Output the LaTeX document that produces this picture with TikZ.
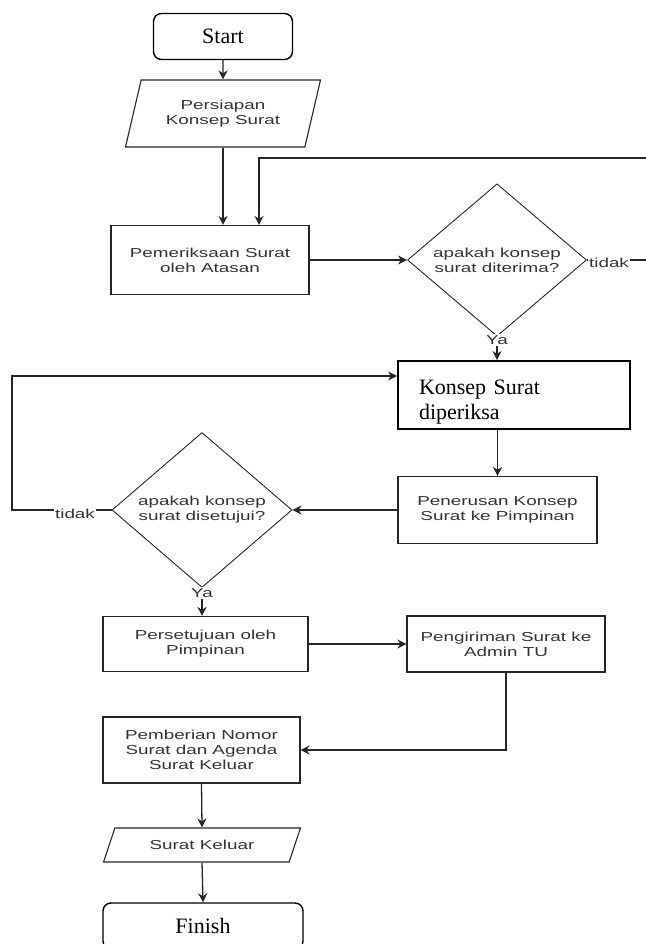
\documentclass[tikz,border=0pt]{standalone}
\usepackage{fontspec}
\setmainfont{Liberation Serif}
\newfontfamily\arialfont[FakeStretch=1.45]{Liberation Sans}
\usetikzlibrary{shapes.geometric}
\usetikzlibrary{arrows.meta}
\usetikzlibrary{calc}

\tikzset{
  panah/.style={line width=1.3pt,draw=black!85,-{Stealth[length=9pt,width=9pt]}},
  huruf/.style={text=black!80,font=\arialfont\fontsize{13}{15}\selectfont},
  terminal/.style={draw,line width=1.4pt,rounded corners=8pt,minimum width=139pt,minimum height=46pt,
    font=\fontsize{22}{25}\selectfont},
  proses/.style={huruf,draw=black!85,line width=1.1pt,align=center,inner sep=0pt},
  keputusan/.style={huruf,diamond,draw=black!85,line width=0.9pt,align=center,inner sep=0pt},
  masukan/.style={huruf,trapezium,trapezium stretches body,draw=black!85,line width=1.1pt,align=center,inner sep=0pt},
  lbl/.style={huruf,fill=white,inner sep=1pt}
}

\begin{document}
\begin{tikzpicture}[x=1pt,y=-1pt]
        \useasboundingbox (0,0) rectangle (645,944);

        \node[terminal] (start) at (223,36.5) {Start};
        \node[masukan,trapezium left angle=60,trapezium right angle=120,
              minimum width=195pt,minimum height=67pt] (persiapan) at (223,113.5) {Persiapan\\Konsep Surat};
        \node[proses,minimum width=198pt,minimum height=69pt] (periksa) at (210,260) {Pemeriksaan Surat\\oleh Atasan};
        \node[keputusan,minimum width=179pt,minimum height=122pt] (terima) at (497,260) {apakah konsep\\surat diterima?};

        % kotak konsep (huruf Times)
        \node[draw,line width=1.9pt,align=left,text width=190pt,inner xsep=21pt,inner ysep=0pt,
              text height=16pt,text depth=18pt,minimum height=68pt,
              font=\fontsize{22}{25}\selectfont] (konsep) at (514,395) {Konsep Surat\\diperiksa};
        \node[proses,minimum width=199pt,minimum height=67pt] (teruskan) at (497.5,510) {Penerusan Konsep\\Surat ke Pimpinan};
        \node[keputusan,minimum width=180pt,minimum height=121pt] (setuju) at (202,510) {apakah konsep\\surat disetujui?};

        \node[proses,minimum width=205pt,minimum height=55pt] (setujuan) at (205.5,644) {Persetujuan oleh\\Pimpinan};
        \node[proses,minimum width=198pt,minimum height=56pt] (kirim) at (506,644) {Pengiriman Surat ke\\Admin TU};
        \node[proses,minimum width=197pt,minimum height=66pt] (nomor) at (201.5,750) {Pemberian Nomor\\Surat dan Agenda\\Surat Keluar};
        \node[masukan,trapezium left angle=40,trapezium right angle=140,
              minimum width=197pt,minimum height=34pt] (keluar) at (202,845) {Surat Keluar};
        \node[terminal,minimum width=200pt] (finish) at (203,926) {Finish};

        \draw[panah] (start.south) -- (persiapan.north);
        \draw[panah] (persiapan.south) -- (persiapan.south |- periksa.north);
        \draw[panah] (periksa.east) -- (terima.west);

        % tidak -> kembali ke atasan
        \coordinate (balikA) at (650,158);
        \coordinate (balikB) at (259,158);
        \draw[panah] (terima.east) -- (balikA |- terima.east) -- (balikA) -- (balikB) -- (balikB |- periksa.north);

        \draw[panah] (terima.south) -- (terima.south |- konsep.north);
        \draw[panah] (teruskan.north |- konsep.south) -- (teruskan.north);
        \draw[panah] (teruskan.west) -- (setuju.east);

        % tidak -> kembali ke konsep
        \coordinate (balikC) at (12,510);
        \draw[panah] (setuju.west) -- (balikC) |- ([yshift=19pt]konsep.west);

        \draw[panah] (setuju.south) -- (setuju.south |- setujuan.north);
        \draw[panah] (setujuan.east) -- (kirim.west);
        \draw[panah] (kirim.south) |- (nomor.east);
        \draw[panah] (nomor.south) -- (keluar.north);
        \draw[panah] (keluar.south) -- (finish.north);

        \draw (609,263) node[lbl] (tidak1) {tidak};
        \draw (497,340) node[lbl] (ya1) {Ya};
        \draw (75,514) node[lbl] (tidak2) {tidak};
        \draw (202,593) node[lbl] (ya2) {Ya};
\end{tikzpicture}
\end{document}
